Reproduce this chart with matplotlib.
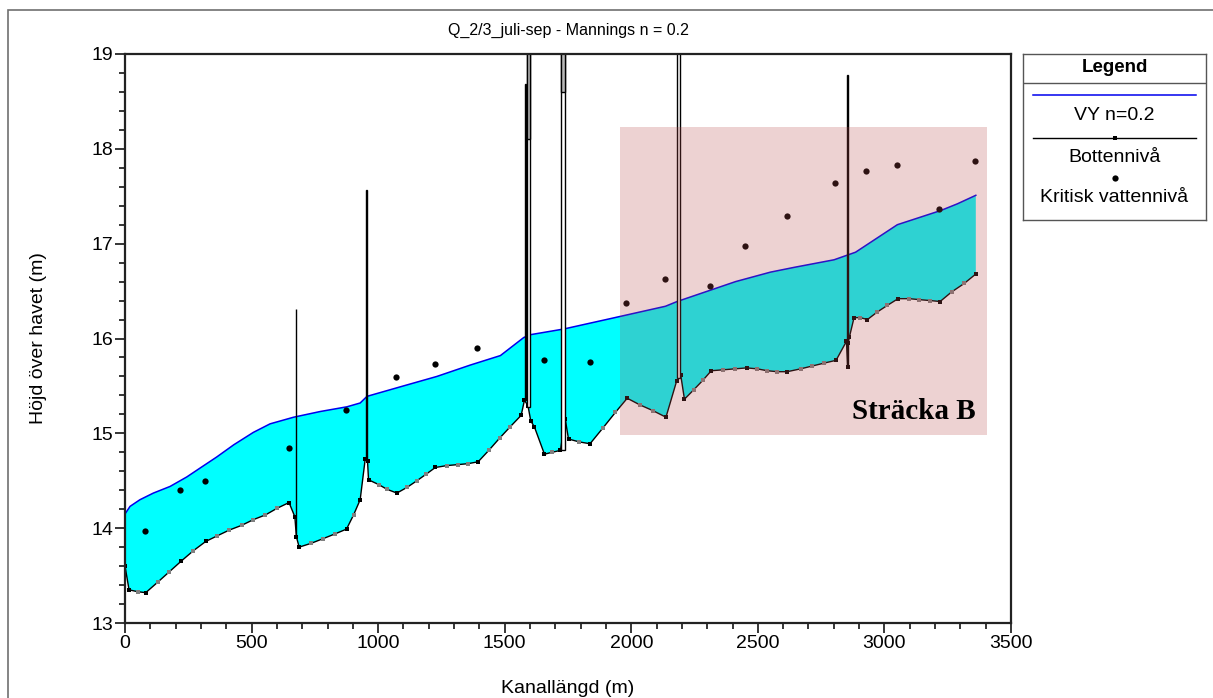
import matplotlib
matplotlib.use("Agg")
import matplotlib.pyplot as plt
from matplotlib.patches import Rectangle
from matplotlib.ticker import MultipleLocator

plt.rcParams['font.family'] = ['Liberation Sans', 'DejaVu Sans']

### data ###
# water surface profile (VY n=0.2)
wat_x = [0, 20, 59, 112, 178, 244, 300, 362, 430, 507, 573, 666, 771, 877, 929, 956,
         1100, 1232, 1364, 1483, 1575, 1601, 1733, 1918, 2135, 2181, 2412,
         2550, 2643, 2801, 2886, 3051, 3223, 3288, 3361]
wat_y = [14.15, 14.23, 14.30, 14.37, 14.44, 14.54, 14.64, 14.75, 14.88, 15.01,
         15.10, 15.17, 15.23, 15.28, 15.32, 15.39, 15.50, 15.60, 15.72, 15.82,
         16.01, 16.04, 16.10, 16.21, 16.34, 16.39, 16.60, 16.70, 16.75, 16.83,
         16.91, 17.20, 17.35, 17.42, 17.51]

# bed level (Bottennivå), m = measured section, i = interpolated section
bed_x = [0, 16, 50, 82, 129, 175, 221, 269, 319, 365, 412, 461, 507, 555, 601,
         648, 671, 677, 688, 735, 783, 830, 875, 903, 929, 949, 958, 962, 1002,
         1035, 1074, 1114, 1153, 1190, 1226, 1272, 1314, 1355, 1395, 1437, 1480,
         1522, 1565, 1578, 1592, 1603, 1617, 1657, 1687, 1720, 1739, 1752, 1794,
         1837, 1889, 1937, 1984, 2034, 2085, 2137, 2179, 2195, 2210, 2247, 2283,
         2316, 2363, 2409, 2456, 2498, 2537, 2577, 2616, 2669, 2715, 2761, 2809,
         2850, 2855, 2856, 2862, 2880, 2905, 2933, 2972, 3012, 3054, 3098, 3137,
         3181, 3220, 3265, 3315, 3361]
bed_y = [13.60, 13.35, 13.33, 13.32, 13.43, 13.54, 13.65, 13.76, 13.86, 13.92,
         13.98, 14.03, 14.09, 14.14, 14.21, 14.27, 14.12, 13.91, 13.80, 13.84,
         13.89, 13.94, 13.99, 14.14, 14.30, 14.73, 14.71, 14.51, 14.46, 14.41,
         14.37, 14.43, 14.50, 14.57, 14.64, 14.66, 14.67, 14.68, 14.70, 14.82,
         14.95, 15.07, 15.19, 15.35, 15.29, 15.13, 15.07, 14.78, 14.80, 14.82,
         15.15, 14.94, 14.91, 14.89, 15.06, 15.22, 15.37, 15.30, 15.24, 15.17,
         15.55, 15.62, 15.36, 15.46, 15.56, 15.66, 15.67, 15.68, 15.69, 15.68,
         15.66, 15.65, 15.65, 15.68, 15.71, 15.74, 15.77, 15.97, 15.70, 15.95,
         16.02, 16.22, 16.22, 16.20, 16.28, 16.35, 16.42, 16.42, 16.41, 16.40,
         16.39, 16.49, 16.58, 16.68]
bed_kind = list("mmimiimimiiiiiimmmmiiimimmmmiimiiimiiimiiimmmmmmimmmimiimiimmmmiimiimiiimiiimmmmmmimiimiiimiim")

# critical water level (Kritisk vattennivå)
crit_x = [78, 219, 316, 646, 873, 1071, 1224, 1392, 1654, 1835, 1981, 2135,
          2310, 2451, 2615, 2805, 2929, 3051, 3217, 3357]
crit_y = [13.97, 14.40, 14.50, 14.85, 15.25, 15.59, 15.73, 15.90, 15.77, 15.75,
          16.37, 16.63, 16.55, 16.98, 17.29, 17.64, 17.77, 17.83, 17.37, 17.87]

# bridges / culverts: left x, right x, low, high, start of grey deck (None = none)
str_x0 = [674, 952, 1579, 1588, 1722, 2180, 2853]
str_x1 = [677, 955, 1586, 1598, 1737, 2194, 2857]
str_lo = [13.91, 14.72, 15.35, 15.28, 14.82, 15.58, 15.72]
str_hi = [16.31, 17.57, 18.68, 19.30, 19.30, 19.30, 18.78]
str_grey = [None, None, None, 18.10, 18.60, None, None]

# highlighted reach "Sträcka B"
reach_x = [1957, 3405]
reach_y = [14.98, 18.23]

fig = plt.figure(figsize=(12.13, 6.98), dpi=100)
W, H = 1213.0, 698.0

# grey frame round the whole chart
fig.patches.append(Rectangle((8 / W, -0.05), 1.1, (H - 10) / H + 0.05,
                             transform=fig.transFigure, fill=False,
                             edgecolor='#707070', lw=1.2))

ax = fig.add_axes([125 / W, (H - 623) / H, 886 / W, 569 / H])

# water between bed and surface
poly_x = list(wat_x) + bed_x[::-1]
poly_y = list(wat_y) + bed_y[::-1]
ax.fill(poly_x, poly_y, color='#00ffff', lw=0, zorder=1)

ax.plot(bed_x, bed_y, color='black', lw=1.0, zorder=3)
mx = [x for x, k in zip(bed_x, bed_kind) if k == 'm']
my = [y for y, k in zip(bed_y, bed_kind) if k == 'm']
ix = [x for x, k in zip(bed_x, bed_kind) if k == 'i']
iy = [y for y, k in zip(bed_y, bed_kind) if k == 'i']
ax.plot(ix, iy, 's', color='#808080', ms=3.5, mew=0, zorder=4)
ax.plot(mx, my, 's', color='black', ms=3.5, mew=0, zorder=4)

ax.plot(wat_x, wat_y, color='#0000ee', lw=1.1, zorder=3)

for x0, x1, lo, hi, g in zip(str_x0, str_x1, str_lo, str_hi, str_grey):
    ax.add_patch(Rectangle((x0, lo), x1 - x0, hi - lo, facecolor='white',
                           edgecolor='black', lw=1.0, zorder=5))
    if g is not None:
        ax.add_patch(Rectangle((x0, g), x1 - x0, hi - g, facecolor='#b8b8b8',
                               edgecolor='black', lw=1.0, zorder=5))

ax.plot(crit_x, crit_y, 'o', color='black', ms=4.5, mew=0, zorder=6)

ax.add_patch(Rectangle((reach_x[0], reach_y[0]), reach_x[1] - reach_x[0],
                       reach_y[1] - reach_y[0], facecolor=(187 / 255, 76 / 255, 76 / 255),
                       alpha=0.25, lw=0, zorder=10))
ax.text(3361, 15.15, 'Sträcka B', family='Liberation Serif', weight='bold',
        fontsize=21, ha='right', va='baseline', zorder=11)

ax.set_xlim(0, 3500)
ax.set_ylim(13, 19)
ax.xaxis.set_major_locator(MultipleLocator(500))
ax.xaxis.set_minor_locator(MultipleLocator(100))
ax.yaxis.set_major_locator(MultipleLocator(1))
ax.yaxis.set_minor_locator(MultipleLocator(0.2))
ax.tick_params(which='major', direction='out', length=7, width=1.1,
               labelsize=14, pad=1.5)
ax.tick_params(which='minor', direction='out', length=4, width=1.1)
for s in ax.spines.values():
    s.set_linewidth(1.6)
    s.set_color('#222222')
    s.set_zorder(12)

ax.set_title('Q_2/3_juli-sep - Mannings n = 0.2', fontsize=11.5, pad=14)
ax.set_xlabel('Kanallängd (m)', fontsize=14, labelpad=20)
ax.set_ylabel('Höjd över havet (m)', fontsize=14, labelpad=32)

### legend box drawn by hand ###
lax = fig.add_axes([1023 / W, (H - 220) / H, 183 / W, 166 / H])
lax.set_xlim(0, 183)
lax.set_ylim(166, 0)
lax.set_xticks([])
lax.set_yticks([])
for s in lax.spines.values():
    s.set_color('#555555')
    s.set_linewidth(1.0)
lax.plot([0, 183], [29, 29], color='#555555', lw=1.0)
lax.text(91.5, 14, 'Legend', weight='bold', fontsize=13.5, ha='center', va='center')
lax.plot([10, 173], [41, 41], color='#0000ee', lw=1.1)
lax.text(91.5, 62, 'VY n=0.2', fontsize=14, ha='center', va='center')
lax.plot([10, 173], [84, 84], color='black', lw=1.0)
lax.plot([91.5], [84], 's', color='black', ms=3.5, mew=0)
lax.text(91.5, 103, 'Bottennivå', fontsize=14, ha='center', va='center')
lax.plot([91.5], [124], 'o', color='black', ms=4.5, mew=0)
lax.text(91.5, 144, 'Kritisk vattennivå', fontsize=14, ha='center', va='center')

fig.savefig('out.png', dpi=100)
